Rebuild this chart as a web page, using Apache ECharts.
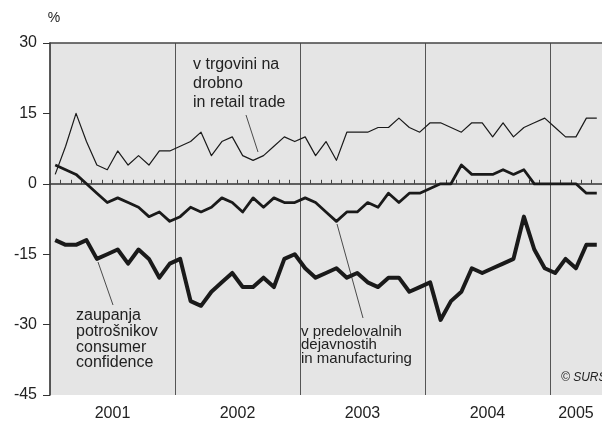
<!DOCTYPE html>
<html><head><meta charset="utf-8">
<script src="https://cdn.jsdelivr.net/npm/echarts@6/dist/echarts.min.js"></script>
<style>html,body{margin:0;padding:0;background:#fff}#c{width:602px;height:432px}</style>
</head><body><div id="c"></div>
<script>
// ---- data ----
const years = ['2001', '2002', '2003', '2004', '2005'];
const monthsPerYear = [12, 12, 12, 12, 5];
const yMin = -45, yMax = 30, yStep = 15;
// monthly values, Jan 2001 .. May 2005
const retail = [2, 8, 15, 9, 4, 3, 7, 4, 6, 4, 7, 7,
                8, 9, 11, 6, 9, 10, 6, 5, 6, 8, 10, 9,
                10, 6, 9, 5, 11, 11, 11, 12, 12, 14, 12, 11,
                13, 13, 12, 11, 13, 13, 10, 13, 10, 12, 13, 14,
                12, 10, 10, 14, 14];
const manufacturing = [4, 3, 2, 0, -2, -4, -3, -4, -5, -7, -6, -8,
                       -7, -5, -6, -5, -3, -4, -6, -3, -5, -3, -4, -4,
                       -3, -4, -6, -8, -6, -6, -4, -5, -2, -4, -2, -2,
                       -1, 0, 0, 4, 2, 2, 2, 3, 2, 3, 0, 0,
                       0, 0, 0, -2, -2];
const consumer = [-12, -13, -13, -12, -16, -15, -14, -17, -14, -16, -20, -17,
                  -16, -25, -26, -23, -21, -19, -22, -22, -20, -22, -16, -15,
                  -18, -20, -19, -18, -20, -19, -21, -22, -20, -20, -23, -22,
                  -21, -29, -25, -23, -18, -19, -18, -17, -16, -7, -14, -18,
                  -19, -16, -18, -13, -13];
const retailLabel = 'v trgovini na\ndrobno\nin retail trade';
const consumerLabel = 'zaupanja\npotrošnikov\nconsumer\nconfidence';
const manufLabel = 'v predelovalnih\ndejavnostih\nin manufacturing';
const sourceLabel = '© SURS';

// ---- build categories ----
const months = [];
const yearStart = new Set();
const labelIdx = {};   // index -> {year, shift}
years.forEach((y, k) => {
  const start = months.length;
  yearStart.add(start);
  const n = monthsPerYear[k];
  if (n % 2 === 0) labelIdx[start + n / 2] = {year: y, shift: true};
  else labelIdx[start + Math.floor(n / 2)] = {year: y, shift: false};
  for (let m = 1; m <= n; m++) months.push(y + '-' + String(m).padStart(2, '0'));
});

const FONT = 'Liberation Sans, Arial, Helvetica, sans-serif';
const chart = echarts.init(document.getElementById('c'), null, {renderer: 'canvas'});
const lineSeries = (name, data, w) => ({
  name, type: 'line', data, symbol: 'none', smooth: false,
  lineStyle: {color: '#1a1a1a', width: w, join: 'round'}, z: 5
});

chart.setOption({
  animation: false,
  backgroundColor: '#ffffff',
  grid: {left: 50, right: 0, top: 43, bottom: 37, show: true, backgroundColor: '#e5e5e5', borderWidth: 0},
  xAxis: [{
    type: 'category', data: months, boundaryGap: true,
    axisLine: {show: true, lineStyle: {color: '#333', width: 1.5}},
    axisTick: {show: true, inside: true, length: 4, interval: 0, lineStyle: {color: '#444', width: 1}},
    axisLabel: {
      interval: (i) => labelIdx[i] !== undefined,
      formatter: (v, i) => {
        const L = labelIdx[i];
        if (!L) return '';
        return L.shift ? '{s|' + L.year + '}' : '{n|' + L.year + '}';
      },
      rich: {
        s: {fontSize: 16, fontFamily: FONT, color: '#222', padding: [0, 10.4, 0, 0]},
        n: {fontSize: 16, fontFamily: FONT, color: '#222'}
      },
      margin: 11
    },
    splitLine: {show: true, interval: (i) => i > 0 && yearStart.has(i), lineStyle: {color: '#555', width: 1}}
  }, {
    type: 'category', data: months, position: 'top', boundaryGap: true,
    axisLine: {show: true, lineStyle: {color: '#444', width: 1.5}},
    axisTick: {show: false}, axisLabel: {show: false}, splitLine: {show: false}
  }],
  yAxis: {
    type: 'value', min: yMin, max: yMax, interval: yStep,
    axisLine: {show: true, lineStyle: {color: '#222', width: 1.5}},
    axisTick: {show: true, length: 7, lineStyle: {color: '#333'}},
    axisLabel: {fontSize: 16, fontFamily: FONT, color: '#222', margin: 13},
    splitLine: {show: false}
  },
  series: [
    lineSeries('retail', retail, 1.2),
    lineSeries('manufacturing', manufacturing, 2.8),
    lineSeries('consumer', consumer, 4)
  ],
  graphic: [
    {type: 'text', x: 54, y: 18, style: {text: '%', font: '14px ' + FONT, fill: '#222', textAlign: 'center', textVerticalAlign: 'middle'}},
    {type: 'text', x: 193, y: 55, z: 10, style: {text: retailLabel, font: '16px ' + FONT, lineHeight: 19, fill: '#222'}},
    {type: 'text', x: 76, y: 308, z: 10, style: {text: consumerLabel, font: '16px ' + FONT, lineHeight: 15.7, fill: '#222'}},
    {type: 'text', x: 301, y: 325, z: 10, style: {text: manufLabel, font: '15px ' + FONT, lineHeight: 13.5, fill: '#222'}},
    {type: 'text', x: 561, y: 372, z: 10, style: {text: sourceLabel, font: 'italic 12px ' + FONT, fill: '#222'}},
    {type: 'line', z: 10, shape: {x1: 246, y1: 115, x2: 258, y2: 152}, style: {stroke: '#222', lineWidth: 0.8}},
    {type: 'line', z: 10, shape: {x1: 98, y1: 262, x2: 113, y2: 305}, style: {stroke: '#222', lineWidth: 0.8}},
    {type: 'line', z: 10, shape: {x1: 337, y1: 224, x2: 363, y2: 318}, style: {stroke: '#222', lineWidth: 0.8}}
  ]
});
</script>
</body></html>
